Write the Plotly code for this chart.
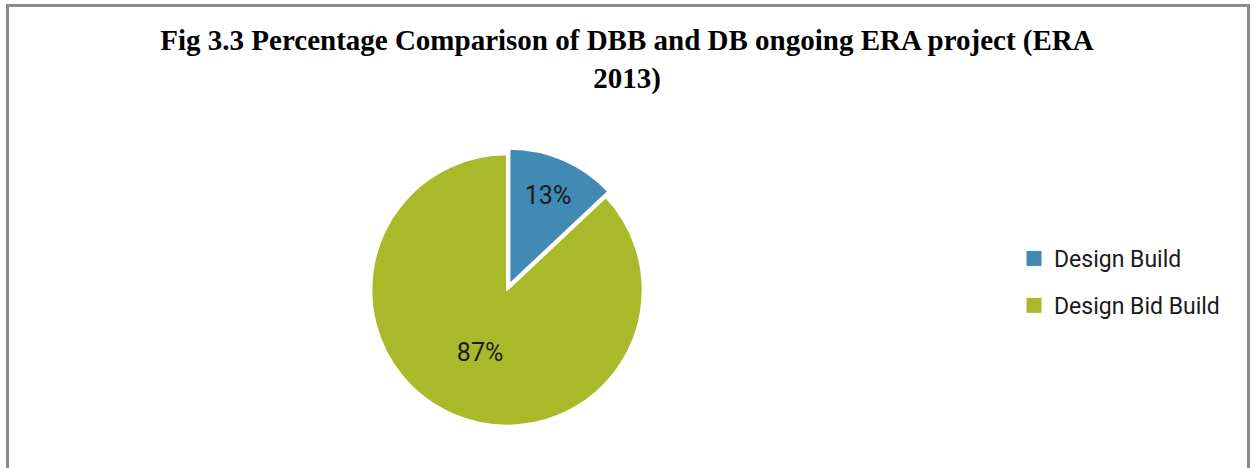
import plotly.graph_objects as go

labels = ["Design Build", "Design Bid Build"]
values = [13, 87]
colors = ["#418AB3", "#A8B92A"]
title_text = "<b>Fig 3.3 Percentage Comparison of DBB and DB ongoing ERA project (ERA<br>2013)</b>"

W, H = 1254, 468
LABEL_FONT = "Roboto, Liberation Sans, Arial, sans-serif"

fig = go.Figure()
fig.add_trace(go.Pie(
    labels=labels, values=values, sort=False, direction="clockwise", rotation=0,
    marker=dict(colors=colors, line=dict(color="white", width=2)),
    pull=[0.045, 0],
    texttemplate="%{percent:.0%}", textposition="inside", insidetextorientation="horizontal",
    textfont=dict(family=LABEL_FONT, size=25, color="#1a1a1a"),
    domain=dict(x=[365.25 / W, 648.75 / W], y=[(H - 431.75) / H, (H - 148.25) / H]),
    showlegend=False, hoverinfo="label+percent",
))
# legend entries
for lab, col in zip(labels, colors):
    fig.add_trace(go.Scatter(
        x=[None], y=[None], mode="markers", name=lab, legendgroup=lab,
        marker=dict(symbol="square", size=15, color=col),
    ))

fig.update_layout(
    width=W, height=H,
    margin=dict(l=0, r=0, t=0, b=0),
    paper_bgcolor="white", plot_bgcolor="white",
    xaxis=dict(visible=False), yaxis=dict(visible=False),
    title=dict(text=title_text, x=0.5, xanchor="center", y=1 - 50 / H, yanchor="top",
               font=dict(family="Liberation Serif, Times New Roman, serif", size=29, color="black")),
    legend=dict(x=1014 / W, xanchor="left", y=(H - 237) / H, yanchor="top",
                font=dict(family=LABEL_FONT, size=23, color="#1a1a1a"),
                tracegroupgap=14, itemwidth=30, bgcolor="rgba(0,0,0,0)"),
    shapes=[dict(type="rect", xref="paper", yref="paper",
                 x0=7.5 / W, x1=1248.5 / W, y0=-0.2, y1=(H - 5.5) / H,
                 line=dict(color="#8C8C8C", width=3))],
)
fig.write_html("out.html")
